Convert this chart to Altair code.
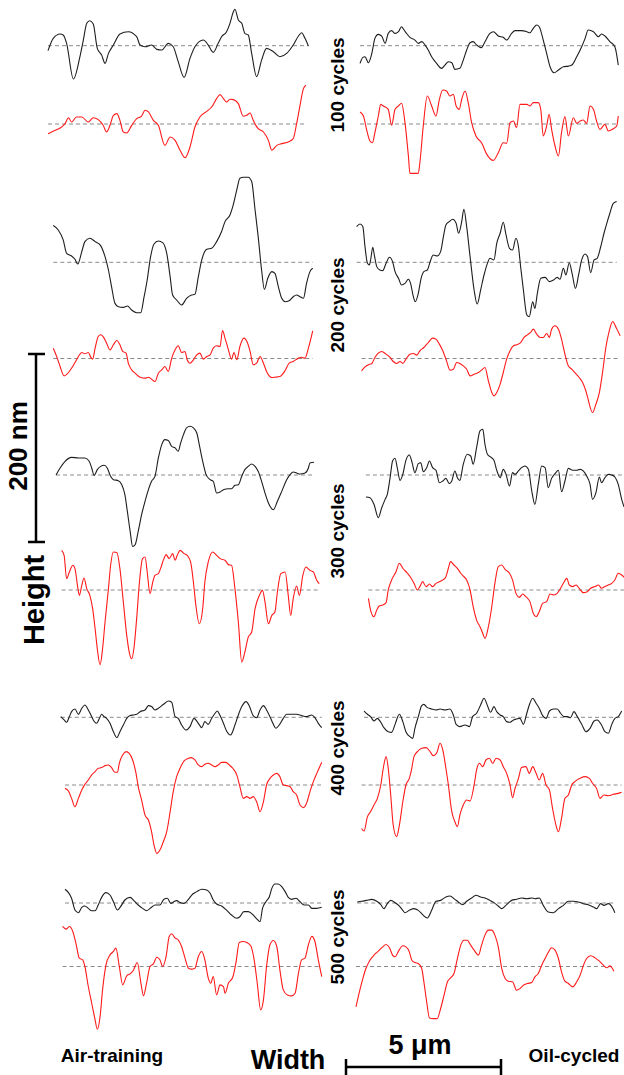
import altair as alt
import pandas as pd

# ---- profile data: (position in um, height in nm relative to mean line) ----
air100_black = [(0,-5.3),(0.17,7.8),(0.39,12.4),(0.49,11.4),(0.60,2.5),(0.82,-35.5),(1.03,-11.7),(1.14,6.0),(1.25,23.8),(1.35,26.6),(1.46,23.1),(1.59,-2.8),(1.73,-9.9),(1.84,-18.8),(1.95,-8.2),(2.11,0.7),(2.32,12.4),(2.59,14.9),(2.86,9.6),(2.97,0.7),(3.13,-1.1),(3.34,0.7),(3.51,-3.9),(3.67,-4.6),(3.88,2.5),(4.04,-1.1),(4.20,-17.0),(4.39,-33.7),(4.58,-13.5),(4.74,-1.1),(5.01,6.0),(5.17,0.7),(5.33,-7.1),(5.49,2.5),(5.60,9.6),(5.76,14.9),(5.87,23.8),(5.98,36.2),(6.03,38.7),(6.14,27.3),(6.25,23.8),(6.35,13.1),(6.46,11.4),(6.57,-8.2),(6.73,-33.0),(6.89,-15.3),(7.05,-2.8),(7.27,-6.4),(7.48,-11.7),(7.70,-8.2),(7.91,0.7),(8.08,10.3),(8.18,13.8),(8.29,7.8),(8.40,-0.4)]
air100_red = [(0,-10.3),(0.23,-6.7),(0.44,-3.2),(0.55,0.4),(0.66,6.7),(0.76,2.1),(0.92,7.5),(1.09,7.5),(1.30,2.1),(1.46,6.7),(1.62,4.6),(1.78,-1.4),(1.89,-8.5),(2.00,-1.4),(2.11,9.2),(2.22,11.0),(2.32,3.9),(2.43,-8.5),(2.54,-9.6),(2.70,-1.4),(2.86,5.7),(3.02,8.5),(3.13,14.6),(3.24,12.8),(3.40,3.9),(3.56,-1.4),(3.77,-22.7),(3.94,-13.8),(4.10,-17.4),(4.26,-28.0),(4.42,-35.9),(4.58,-24.5),(4.74,-3.2),(4.90,7.5),(5.12,13.5),(5.28,18.1),(5.44,27.0),(5.55,31.2),(5.66,27.0),(5.76,23.4),(5.87,26.3),(5.98,25.9),(6.14,21.7),(6.30,8.2),(6.41,9.2),(6.52,11.7),(6.62,3.9),(6.78,-5.0),(6.95,-8.5),(7.11,-17.4),(7.22,-28.0),(7.38,-22.7),(7.54,-20.9),(7.75,-19.2),(7.91,-15.6),(8.02,0.4),(8.13,19.9),(8.24,37.6),(8.32,41.2)]
oil100_black = [(0.13,-18.8),(0.22,-12.4),(0.29,-11.7),(0.40,-18.1),(0.51,-8.2),(0.61,7.8),(0.72,12.1),(0.83,10.3),(0.94,2.5),(1.04,13.1),(1.15,16.0),(1.26,13.1),(1.37,14.9),(1.47,20.2),(1.55,16.7),(1.63,13.1),(1.74,8.9),(1.90,6.0),(2.01,2.5),(2.12,4.3),(2.23,0.7),(2.33,-4.6),(2.44,-11.7),(2.60,-18.8),(2.76,-24.1),(2.87,-20.6),(2.98,-17.0),(3.09,-18.1),(3.19,-25.2),(3.35,-24.1),(3.46,-15.3),(3.57,-4.6),(3.68,3.2),(3.78,4.3),(3.89,0.7),(4.05,-2.1),(4.16,4.3),(4.32,13.1),(4.43,14.9),(4.59,10.3),(4.75,8.9),(4.86,6.0),(5.02,13.1),(5.13,16.0),(5.34,16.0),(5.51,14.9),(5.61,13.8),(5.72,18.5),(5.83,22.0),(5.91,20.2),(6.04,6.0),(6.15,-8.2),(6.26,-22.4),(6.39,-28.8),(6.53,-25.9),(6.69,-22.4),(6.85,-21.7),(6.96,-20.6),(7.12,-11.7),(7.28,-1.1),(7.39,7.8),(7.49,16.7),(7.66,14.9),(7.82,9.6),(7.92,12.4),(8.03,10.3),(8.19,4.3),(8.35,-1.1),(8.46,-20.6)]
oil100_red = [(0.13,12.8),(0.24,8.5),(0.34,-5.7),(0.45,-18.1),(0.53,-19.9),(0.61,-9.2),(0.72,8.5),(0.80,20.9),(0.88,19.2),(1.04,15.6),(1.15,-1.4),(1.26,15.6),(1.37,19.2),(1.47,22.0),(1.58,1.4),(1.69,-34.1),(1.74,-52.5),(2.01,-52.5),(2.06,-41.2),(2.17,-2.1),(2.30,29.8),(2.44,19.2),(2.58,8.5),(2.69,26.3),(2.80,36.2),(2.92,35.1),(3.03,29.8),(3.14,31.6),(3.23,19.2),(3.33,15.6),(3.41,26.3),(3.52,35.1),(3.62,22.7),(3.73,1.4),(3.87,-12.8),(4.05,-19.9),(4.22,-32.3),(4.43,-38.7),(4.59,-30.5),(4.75,-19.9),(4.86,-20.6),(4.97,1.4),(5.08,3.2),(5.18,-3.9),(5.29,20.9),(5.51,20.9),(5.61,19.2),(5.72,22.7),(5.88,22.7),(5.96,15.6),(6.04,-12.8),(6.15,-2.1),(6.23,10.3),(6.31,-5.7),(6.42,-23.4),(6.53,-34.1),(6.63,-9.2),(6.74,7.8),(6.85,-12.8),(7.01,6.7),(7.12,0.7),(7.23,3.2),(7.33,4.3),(7.44,0.7),(7.55,19.2),(7.66,15.6),(7.76,3.2),(7.87,-5.7),(8.03,-0.4),(8.14,-7.5),(8.30,-5.0),(8.41,-2.1),(8.46,8.5)]
air200_black = [(0.17,39.1),(0.33,34.4),(0.49,23.8),(0.60,9.6),(0.76,6.7),(0.87,3.2),(0.96,-1.8),(1.09,11.4),(1.19,22.0),(1.35,25.6),(1.52,22.0),(1.68,18.5),(1.84,6.0),(1.95,-8.2),(2.05,-25.9),(2.16,-43.7),(2.27,-47.2),(2.43,-47.9),(2.56,-46.5),(2.70,-50.8),(2.86,-53.6),(2.99,-53.6),(3.10,-36.6),(3.20,-18.8),(3.31,6.0),(3.42,19.5),(3.56,22.7),(3.70,20.9),(3.83,9.6),(3.94,-15.3),(4.02,-34.8),(4.15,-40.1),(4.31,-45.4),(4.47,-38.3),(4.63,-34.8),(4.74,-34.1),(4.85,-15.3),(4.96,2.5),(5.12,13.8),(5.28,14.9),(5.44,22.0),(5.60,32.7),(5.71,43.3),(5.87,50.4),(5.96,59.3),(6.09,77.0),(6.19,89.5),(6.30,90.5),(6.46,90.5),(6.57,85.9),(6.68,55.7),(6.78,27.3),(6.89,-8.2),(6.98,-28.8),(7.09,-17.0),(7.22,-9.9),(7.32,-11.7),(7.43,-25.9),(7.54,-38.3),(7.65,-41.9),(7.78,-40.8),(7.91,-36.6),(8.02,-34.8),(8.13,-36.6),(8.24,-38.3),(8.34,-22.4),(8.45,-9.9),(8.54,-6.4)]
air200_red = [(0.17,11.0),(0.28,2.1),(0.39,-8.5),(0.52,-18.5),(0.66,-14.9),(0.76,-10.3),(0.87,-4.3),(0.98,2.1),(1.09,6.4),(1.19,5.0),(1.30,6.4),(1.38,1.4),(1.44,-0.7),(1.52,11.0),(1.62,23.4),(1.70,25.2),(1.81,21.7),(1.89,16.3),(2.00,9.2),(2.11,14.6),(2.22,19.2),(2.32,14.6),(2.41,7.5),(2.52,5.7),(2.59,-5.0),(2.70,-12.1),(2.81,-15.6),(2.97,-19.9),(3.13,-20.9),(3.24,-19.9),(3.34,-22.0),(3.45,-24.5),(3.56,-15.6),(3.67,-12.1),(3.77,-8.5),(3.88,-13.8),(3.99,0.4),(4.10,9.2),(4.20,13.5),(4.31,6.4),(4.42,7.5),(4.49,-1.4),(4.58,-5.0),(4.69,-1.4),(4.80,3.9),(4.90,5.7),(5.01,-0.7),(5.12,2.1),(5.23,3.9),(5.33,11.0),(5.44,13.5),(5.55,12.8),(5.63,29.8),(5.71,21.7),(5.82,9.2),(5.92,-0.7),(6.00,6.4),(6.09,-1.4),(6.19,12.8),(6.32,21.7),(6.43,17.0),(6.52,7.5),(6.62,-6.7),(6.73,-5.0),(6.84,2.1),(6.95,-5.0),(7.05,-13.8),(7.22,-20.2),(7.32,-19.9),(7.48,-19.2),(7.65,-12.8),(7.78,-5.0),(7.91,-3.2),(8.08,0.4),(8.18,1.4),(8.29,0.4),(8.40,11.0),(8.54,29.5)]
oil200_black = [(0.02,38.0),(0.13,40.8),(0.22,38.0),(0.29,16.7),(0.37,-1.1),(0.43,-2.8),(0.48,4.3),(0.54,16.0),(0.60,6.0),(0.67,-4.6),(0.77,-8.2),(0.86,-8.9),(0.97,-1.1),(1.08,5.3),(1.18,0.7),(1.26,-9.9),(1.37,-17.0),(1.47,-24.1),(1.58,-22.4),(1.69,-18.1),(1.76,-22.4),(1.85,-36.6),(1.91,-41.9),(2.01,-33.0),(2.10,-17.0),(2.19,-9.9),(2.30,-8.2),(2.41,2.5),(2.49,7.8),(2.62,6.7),(2.73,11.4),(2.82,27.3),(2.90,39.8),(3.01,43.3),(3.12,45.8),(3.23,41.5),(3.31,30.9),(3.41,43.3),(3.48,56.4),(3.57,38.0),(3.68,6.0),(3.81,-29.5),(3.91,-44.4),(4.02,-29.5),(4.13,-13.5),(4.24,-1.1),(4.32,4.3),(4.45,2.5),(4.54,20.2),(4.65,30.9),(4.75,42.6),(4.84,29.1),(4.95,14.9),(5.05,13.1),(5.16,25.6),(5.24,16.7),(5.31,-4.6),(5.40,-29.5),(5.51,-56.1),(5.59,-57.9),(5.70,-41.9),(5.77,-49.0),(5.85,-33.0),(5.96,-17.0),(6.10,-16.0),(6.24,-20.6),(6.37,-18.8),(6.49,-16.0),(6.58,-18.1),(6.69,-6.4),(6.77,-13.5),(6.88,-0.4),(6.97,-11.7),(7.08,-27.7),(7.18,-13.5),(7.28,2.5),(7.39,8.9),(7.47,6.0),(7.57,-11.0),(7.68,2.5),(7.78,4.3),(7.89,16.0),(8.00,30.9),(8.09,41.5),(8.19,52.2),(8.30,62.8),(8.41,64.6)]
oil200_red = [(0.18,-13.1),(0.29,-8.9),(0.40,-6.7),(0.51,-5.3),(0.61,1.1),(0.72,5.7),(0.83,7.5),(0.97,4.6),(1.10,1.1),(1.20,-3.2),(1.31,-5.3),(1.42,-3.2),(1.51,-5.3),(1.61,-0.7),(1.74,4.6),(1.85,5.3),(1.96,3.6),(2.06,8.2),(2.19,11.7),(2.33,17.0),(2.47,21.7),(2.58,20.6),(2.69,15.3),(2.80,8.2),(2.92,-2.5),(3.03,-12.4),(3.14,-11.4),(3.25,-4.3),(3.35,-5.3),(3.46,-7.8),(3.57,-11.4),(3.68,-18.5),(3.81,-16.7),(3.95,-14.9),(4.05,-12.4),(4.16,-9.6),(4.27,-23.8),(4.38,-36.2),(4.45,-39.8),(4.54,-36.2),(4.65,-27.3),(4.75,-14.9),(4.86,-0.7),(4.97,8.2),(5.08,13.5),(5.18,14.6),(5.31,17.0),(5.42,22.4),(5.53,25.2),(5.63,27.7),(5.72,31.2),(5.83,25.9),(5.94,22.4),(6.04,22.4),(6.15,26.6),(6.24,22.4),(6.31,31.2),(6.42,34.8),(6.53,31.2),(6.63,20.6),(6.74,4.6),(6.85,-7.8),(6.96,-11.4),(7.06,-14.9),(7.20,-20.2),(7.31,-25.6),(7.42,-35.1),(7.46,-39.8),(7.63,-57.5),(7.74,-48.6),(7.85,-36.2),(7.96,-13.1),(8.06,11.7),(8.17,29.5),(8.28,39.4),(8.39,33.0),(8.52,24.1)]
air300_black = [(0.26,0),(0.39,7.5),(0.55,14.6),(0.76,18.8),(0.98,18.1),(1.19,18.1),(1.33,14.6),(1.41,7.5),(1.49,-0.4),(1.59,5.7),(1.70,9.2),(1.81,10.3),(1.91,7.5),(2.02,-1.4),(2.11,-5.0),(2.27,-6.0),(2.38,-10.3),(2.48,-20.9),(2.56,-38.7),(2.65,-60.0),(2.73,-76.0),(2.81,-74.2),(2.91,-60.0),(3.02,-42.2),(3.13,-28.0),(3.24,-15.6),(3.34,-6.7),(3.45,-1.4),(3.56,18.1),(3.67,32.3),(3.77,37.6),(3.88,36.6),(3.99,30.5),(4.10,28.8),(4.20,25.2),(4.28,34.1),(4.37,43.0),(4.47,50.1),(4.58,51.8),(4.69,50.1),(4.80,44.7),(4.88,32.3),(4.99,14.6),(5.10,0.4),(5.23,-5.0),(5.33,-6.7),(5.44,-19.2),(5.55,-18.1),(5.66,-15.6),(5.82,-14.6),(5.92,-14.6),(6.03,-11.0),(6.14,-10.3),(6.25,-1.4),(6.35,5.7),(6.46,9.2),(6.57,11.7),(6.68,9.2),(6.78,3.9),(6.89,-6.7),(7.00,-19.2),(7.11,-29.8),(7.27,-36.9),(7.40,-28.0),(7.54,-17.4),(7.70,-5.0),(7.81,0.4),(7.91,3.2),(8.02,2.1),(8.13,1.1),(8.29,2.1),(8.40,7.5),(8.45,12.8),(8.58,13.5)]
air300_red = [(0.44,42.2),(0.52,36.9),(0.60,12.1),(0.69,19.2),(0.80,26.3),(0.87,22.7),(0.95,5.0),(1.01,-5.7),(1.09,5.0),(1.16,12.8),(1.25,1.4),(1.35,-5.7),(1.44,-19.9),(1.52,-41.2),(1.59,-62.5),(1.68,-79.5),(1.76,-62.5),(1.84,-34.1),(1.95,1.4),(2.02,26.3),(2.11,40.5),(2.22,39.8),(2.32,22.7),(2.43,-12.8),(2.54,-48.3),(2.62,-66.0),(2.70,-73.1),(2.77,-62.5),(2.86,-30.5),(2.95,8.5),(3.05,33.4),(3.13,35.1),(3.20,19.2),(3.29,-3.9),(3.38,8.5),(3.45,15.6),(3.56,17.4),(3.63,22.7),(3.74,33.4),(3.81,37.6),(3.91,33.4),(4.02,38.7),(4.10,31.6),(4.17,36.9),(4.26,42.2),(4.39,38.7),(4.49,36.9),(4.60,29.8),(4.69,8.5),(4.77,-16.3),(4.88,-35.9),(4.99,-19.9),(5.06,8.5),(5.17,29.8),(5.31,40.5),(5.44,36.9),(5.55,33.4),(5.71,31.6),(5.82,27.0),(5.92,26.3),(6.03,1.4),(6.14,-34.1),(6.25,-76.7),(6.35,-66.0),(6.46,-50.1),(6.57,-44.7),(6.68,-19.9),(6.82,-5.7),(6.92,-0.4),(7.00,-12.8),(7.11,-35.9),(7.22,-27.0),(7.32,-23.4),(7.40,-2.1),(7.51,17.4),(7.65,19.2),(7.75,-5.7),(7.83,-27.0),(7.91,-9.2),(8.02,4.3),(8.11,-5.7),(8.22,15.6),(8.32,24.5),(8.45,20.9),(8.56,19.2),(8.67,10.3),(8.75,6.7)]
oil300_black = [(0.32,-23.4),(0.45,-24.1),(0.58,-31.2),(0.72,-45.4),(0.83,-34.8),(0.94,-25.9),(1.01,-20.6),(1.10,-2.8),(1.18,14.9),(1.26,17.8),(1.33,7.8),(1.42,-5.7),(1.51,0.7),(1.61,15.6),(1.72,21.3),(1.81,13.1),(1.90,2.5),(2.01,12.1),(2.09,13.1),(2.17,3.6),(2.28,7.8),(2.37,14.9),(2.47,7.8),(2.58,5.0),(2.69,-8.2),(2.80,-6.4),(2.90,-3.6),(3.01,-9.2),(3.09,-6.4),(3.19,4.3),(3.27,-2.8),(3.35,-5.7),(3.46,11.4),(3.59,22.0),(3.70,20.2),(3.78,11.4),(3.89,29.1),(4.00,46.9),(4.09,48.6),(4.16,32.7),(4.24,22.0),(4.34,19.2),(4.45,15.6),(4.54,5.0),(4.65,-2.8),(4.75,6.0),(4.84,0.7),(4.95,-11.7),(5.05,2.5),(5.13,0.7),(5.24,4.3),(5.34,7.8),(5.45,9.6),(5.56,6.0),(5.67,-17.0),(5.77,-31.2),(5.88,-9.9),(5.99,9.6),(6.10,7.8),(6.20,-13.5),(6.31,-3.6),(6.42,1.4),(6.53,5.0),(6.63,-17.8),(6.74,-6.4),(6.85,7.1),(6.99,5.0),(7.12,5.0),(7.23,6.0),(7.33,4.3),(7.44,-1.1),(7.55,-9.9),(7.63,-25.9),(7.74,-18.8),(7.85,-2.1),(7.92,-8.2),(8.03,-2.8),(8.14,0.7),(8.25,0),(8.35,-2.1),(8.46,-9.9),(8.57,-25.9),(8.65,-34.1)]
oil300_red = [(0.40,-8.9),(0.47,-21.3),(0.58,-28.4),(0.67,-21.3),(0.75,-17.0),(0.86,-16.0),(0.97,-13.5),(1.04,0),(1.15,10.7),(1.29,19.5),(1.40,28.4),(1.51,23.1),(1.66,17.8),(1.76,13.5),(1.87,7.1),(1.98,0),(2.06,3.6),(2.15,8.9),(2.26,3.6),(2.37,6.4),(2.47,3.6),(2.58,7.1),(2.69,8.9),(2.80,10.7),(2.90,14.2),(2.98,23.1),(3.05,30.2),(3.16,26.6),(3.27,23.1),(3.38,17.8),(3.48,14.2),(3.57,10.7),(3.68,0),(3.78,-17.8),(3.89,-32.0),(4.00,-39.1),(4.09,-46.2),(4.16,-51.5),(4.27,-39.1),(4.38,-17.8),(4.48,7.1),(4.59,24.9),(4.70,26.6),(4.81,22.0),(4.95,17.8),(5.05,10.7),(5.16,-3.6),(5.27,-7.8),(5.38,-4.3),(5.48,-7.1),(5.61,-12.4),(5.72,-24.9),(5.81,-28.4),(5.91,-23.1),(6.02,-14.2),(6.15,-12.4),(6.26,-4.3),(6.39,-5.3),(6.49,-3.6),(6.60,1.8),(6.69,7.1),(6.80,12.4),(6.88,5.3),(6.99,3.6),(7.10,5.3),(7.20,1.8),(7.33,-2.8),(7.46,-1.8),(7.57,1.8),(7.71,3.6),(7.82,5.3),(7.92,1.8),(8.03,3.6),(8.14,5.3),(8.25,7.1),(8.35,10.7),(8.46,17.8),(8.57,16.0),(8.65,13.5)]
air400_black = [(0.41,0.7),(0.52,-2.8),(0.60,-5.3),(0.69,0.7),(0.76,6.0),(0.87,8.9),(0.98,3.2),(1.09,9.6),(1.19,13.1),(1.30,7.8),(1.41,0.7),(1.48,-3.9),(1.57,-6.4),(1.66,-1.1),(1.73,3.2),(1.81,0.7),(1.89,-1.1),(2.00,-6.4),(2.11,-15.3),(2.22,-21.7),(2.32,-15.3),(2.43,-8.2),(2.54,-1.1),(2.65,1.8),(2.75,2.5),(2.86,3.2),(2.97,6.0),(3.13,7.8),(3.24,12.4),(3.34,11.4),(3.45,7.8),(3.56,9.6),(3.67,12.4),(3.77,14.9),(3.88,17.4),(3.99,16.0),(4.10,0.7),(4.20,-1.1),(4.31,-8.2),(4.45,-13.5),(4.58,-9.9),(4.71,-1.1),(4.85,-6.4),(4.96,-11.0),(5.06,-4.6),(5.17,-7.5),(5.28,-1.1),(5.39,4.3),(5.46,6.7),(5.55,1.8),(5.66,-6.4),(5.76,-14.6),(5.89,-18.8),(6.03,-8.2),(6.14,2.5),(6.25,11.4),(6.39,16.7),(6.49,12.4),(6.62,1.8),(6.73,-0.4),(6.84,7.8),(6.95,12.4),(7.05,7.8),(7.16,0.7),(7.27,-7.5),(7.35,-11.7),(7.46,-8.2),(7.59,-1.1),(7.70,3.2),(7.86,3.2),(8.02,3.2),(8.18,1.8),(8.34,0.7),(8.51,2.5),(8.61,-0.4),(8.72,-6.4),(8.83,-11.0)]
air400_red = [(0.55,-3.6),(0.66,-6.4),(0.76,-14.2),(0.87,-23.1),(0.98,-14.2),(1.09,-5.3),(1.19,0.7),(1.30,5.3),(1.41,10.7),(1.52,14.2),(1.62,17.8),(1.73,18.5),(1.84,20.6),(1.95,21.3),(2.05,18.5),(2.16,13.5),(2.24,13.5),(2.30,23.1),(2.41,32.0),(2.52,35.5),(2.62,33.7),(2.73,26.6),(2.84,12.4),(2.91,-1.8),(3.02,-16.0),(3.13,-32.0),(3.24,-37.3),(3.34,-49.7),(3.42,-63.9),(3.51,-72.8),(3.61,-69.2),(3.72,-60.4),(3.83,-49.7),(3.94,-28.4),(4.04,-7.1),(4.15,8.9),(4.26,17.8),(4.39,25.6),(4.53,28.4),(4.63,29.1),(4.74,26.6),(4.85,21.3),(4.96,19.5),(5.06,22.0),(5.17,23.1),(5.28,21.3),(5.39,19.5),(5.49,21.3),(5.60,24.1),(5.74,24.1),(5.85,21.3),(5.96,17.8),(6.09,10.7),(6.19,-1.8),(6.30,-14.2),(6.41,-12.4),(6.52,-14.2),(6.62,-12.4),(6.73,-17.8),(6.84,-28.4),(6.95,-17.8),(7.05,0),(7.16,7.1),(7.27,10.7),(7.38,12.4),(7.48,8.9),(7.59,0),(7.70,-0.7),(7.81,-1.8),(7.91,-7.1),(8.02,-10.7),(8.13,-21.3),(8.24,-24.1),(8.34,-19.5),(8.45,-7.1),(8.56,3.6),(8.67,12.4),(8.83,24.1)]
oil400_black = [(0.26,6.7),(0.37,3.2),(0.47,0.7),(0.58,-3.9),(0.69,-1.1),(0.80,-5.3),(0.90,-11.0),(1.04,-15.3),(1.15,-16.0),(1.26,-7.5),(1.40,3.2),(1.51,-4.6),(1.61,-15.3),(1.74,-20.6),(1.83,-22.4),(1.90,-11.7),(2.01,0.7),(2.12,12.4),(2.19,13.8),(2.30,10.3),(2.44,8.9),(2.58,7.8),(2.71,8.9),(2.87,7.8),(3.03,8.9),(3.14,2.5),(3.23,-7.5),(3.35,-9.9),(3.52,-8.2),(3.66,-9.9),(3.76,0.7),(3.89,4.3),(4.02,13.1),(4.13,20.2),(4.24,12.4),(4.34,5.3),(4.45,11.4),(4.54,6.0),(4.65,2.5),(4.75,0.7),(4.86,-4.6),(4.97,-5.3),(5.08,-2.8),(5.18,-1.8),(5.29,-1.1),(5.40,-7.5),(5.51,4.3),(5.59,13.1),(5.70,20.2),(5.81,14.9),(5.91,9.6),(6.02,1.8),(6.13,-1.1),(6.24,6.7),(6.37,8.9),(6.49,8.9),(6.60,4.3),(6.71,0.7),(6.82,0.7),(6.92,-0.4),(7.03,6.0),(7.14,0.7),(7.28,-7.5),(7.42,-15.3),(7.55,-11.7),(7.68,-3.9),(7.78,-2.8),(7.92,-8.2),(8.03,-15.3),(8.14,-17.0),(8.25,-7.5),(8.35,-1.1),(8.46,0.7),(8.57,6.7)]
oil400_red = [(0.18,-46.2),(0.26,-49.0),(0.37,-33.7),(0.47,-28.4),(0.58,-21.3),(0.69,-14.2),(0.80,0),(0.88,17.8),(0.97,30.2),(1.04,17.8),(1.12,-10.7),(1.20,-42.6),(1.31,-55.0),(1.40,-42.6),(1.51,-17.8),(1.61,0),(1.72,7.1),(1.80,17.8),(1.87,30.2),(1.98,35.5),(2.12,39.1),(2.26,39.8),(2.39,35.5),(2.49,31.2),(2.62,35.5),(2.71,44.4),(2.80,37.3),(2.90,17.8),(2.98,0),(3.09,-28.4),(3.19,-39.1),(3.27,-44.4),(3.35,-32.0),(3.46,-21.3),(3.57,-16.0),(3.68,-17.0),(3.81,0),(3.89,16.0),(3.98,23.1),(4.09,19.5),(4.19,26.6),(4.30,28.4),(4.41,23.1),(4.52,28.4),(4.65,26.6),(4.75,19.5),(4.86,12.4),(4.97,0),(5.05,-13.5),(5.13,-3.6),(5.24,7.1),(5.34,18.5),(5.48,19.5),(5.59,12.4),(5.70,19.5),(5.81,12.4),(5.91,5.3),(6.02,12.4),(6.13,0),(6.24,-5.3),(6.34,-24.9),(6.45,-42.6),(6.53,-49.7),(6.63,-35.5),(6.74,-14.2),(6.85,-10.7),(6.96,0),(7.06,3.6),(7.23,7.1),(7.39,8.9),(7.53,7.1),(7.63,1.8),(7.76,-3.6),(7.87,-14.2),(8.00,-10.7),(8.14,-11.4),(8.30,-9.9),(8.46,-8.9),(8.57,-7.8)]
air500_black = [(0.55,14.6),(0.66,11.0),(0.76,5.0),(0.87,-7.5),(0.98,-10.3),(1.09,-4.6),(1.19,-3.2),(1.30,-5.7),(1.41,-8.2),(1.52,-8.2),(1.62,-2.1),(1.73,6.0),(1.87,11.0),(2.00,8.5),(2.11,1.4),(2.24,-7.5),(2.34,-3.9),(2.48,3.2),(2.65,6.0),(2.77,2.5),(2.91,-2.1),(3.05,-5.7),(3.18,-8.2),(3.34,-4.6),(3.45,-2.1),(3.61,-2.1),(3.74,3.9),(3.85,5.0),(3.96,-0.4),(4.06,1.4),(4.15,2.5),(4.26,0.4),(4.39,-0.4),(4.53,3.9),(4.67,9.6),(4.80,12.1),(4.96,14.6),(5.12,13.8),(5.23,10.3),(5.33,3.2),(5.44,-1.1),(5.60,-3.2),(5.76,-7.5),(5.92,-12.8),(6.09,-16.3),(6.19,-14.6),(6.32,-9.2),(6.46,-9.2),(6.62,-12.8),(6.75,-17.4),(6.84,-19.9),(6.92,-5.7),(7.03,1.4),(7.14,6.7),(7.22,15.6),(7.32,20.2),(7.43,20.2),(7.54,17.4),(7.65,12.1),(7.75,6.0),(7.86,3.9),(8.00,5.0),(8.13,1.4),(8.26,-2.1),(8.40,-2.1),(8.51,-5.7),(8.67,-5.7),(8.83,-4.6)]
air500_red = [(0.47,42.6),(0.58,39.8),(0.69,42.6),(0.80,37.3),(0.90,24.9),(1.01,8.9),(1.12,7.1),(1.19,0),(1.30,-21.3),(1.41,-39.1),(1.52,-56.8),(1.59,-66.7),(1.68,-53.3),(1.76,-24.9),(1.87,1.8),(2.00,12.4),(2.11,16.0),(2.19,19.5),(2.30,0),(2.41,-19.5),(2.54,-9.9),(2.65,-7.8),(2.75,-4.3),(2.88,4.3),(2.99,-16.0),(3.08,-31.2),(3.18,-17.8),(3.29,0),(3.40,2.8),(3.51,9.9),(3.61,7.1),(3.70,0),(3.81,10.7),(3.91,32.0),(3.99,34.8),(4.10,30.2),(4.20,28.4),(4.31,21.3),(4.42,8.9),(4.53,-1.8),(4.63,-2.8),(4.74,-1.8),(4.85,10.7),(4.96,16.0),(5.06,7.1),(5.17,-12.4),(5.25,-17.8),(5.33,-10.7),(5.44,-30.2),(5.55,-19.5),(5.66,-21.3),(5.71,-28.4),(5.82,-17.8),(5.96,-11.4),(6.06,3.6),(6.17,25.6),(6.30,26.6),(6.41,25.6),(6.54,22.0),(6.65,7.1),(6.75,-17.8),(6.86,-46.2),(6.95,-35.5),(7.05,0),(7.16,23.1),(7.27,27.7),(7.38,21.3),(7.48,-3.6),(7.59,-24.9),(7.72,-30.2),(7.86,-31.2),(7.97,-28.4),(8.08,-7.1),(8.18,7.1),(8.29,8.9),(8.40,23.1),(8.51,32.0),(8.61,26.6),(8.72,7.1),(8.83,-10.7)]
oil500_black = [(0.04,1.1),(0.18,1.8),(0.34,2.8),(0.51,3.9),(0.67,1.8),(0.80,-1.8),(0.90,-6.0),(1.01,-0.7),(1.12,2.8),(1.26,0.4),(1.40,-3.2),(1.51,-7.8),(1.58,-10.3),(1.72,-7.8),(1.87,-6.0),(2.01,-7.8),(2.15,-12.4),(2.30,-16.0),(2.44,-7.8),(2.58,1.8),(2.73,2.8),(2.90,6.4),(3.03,7.5),(3.19,3.9),(3.30,1.1),(3.44,-1.8),(3.57,1.8),(3.73,5.3),(3.87,8.2),(4.02,6.4),(4.16,5.3),(4.32,2.8),(4.45,0.4),(4.59,-3.2),(4.70,-6.0),(4.86,-1.8),(5.02,2.8),(5.18,3.9),(5.34,5.3),(5.51,4.6),(5.67,5.3),(5.77,4.6),(5.91,5.3),(6.04,-2.5),(6.20,-9.6),(6.37,-10.3),(6.53,-6.0),(6.69,-2.5),(6.85,1.8),(7.01,1.8),(7.17,1.1),(7.33,-0.7),(7.49,-1.8),(7.66,-4.3),(7.76,-6.0),(7.89,-0.7),(8.00,-2.5),(8.14,-0.7),(8.28,-5.3),(8.35,-10.3)]
oil500_red = [(0,-43.0),(0.11,-27.0),(0.22,-12.8),(0.32,-2.1),(0.45,6.7),(0.58,12.1),(0.72,16.3),(0.86,20.9),(0.97,23.4),(1.08,19.9),(1.18,12.1),(1.26,10.3),(1.37,16.3),(1.51,22.0),(1.61,20.9),(1.72,15.6),(1.80,6.7),(1.90,4.3),(2.01,3.2),(2.12,-2.1),(2.19,-16.3),(2.28,-37.6),(2.37,-54.7),(2.49,-55.4),(2.62,-55.4),(2.73,-44.7),(2.84,-30.5),(2.95,-16.3),(3.05,-12.1),(3.16,-7.5),(3.27,8.5),(3.38,22.7),(3.48,28.0),(3.59,28.0),(3.70,22.7),(3.81,17.4),(3.95,12.1),(4.05,22.7),(4.16,33.4),(4.27,38.7),(4.38,38.7),(4.48,33.4),(4.59,20.9),(4.70,-2.1),(4.81,-12.8),(4.91,-15.6),(5.05,-16.3),(5.18,-25.2),(5.29,-23.4),(5.40,-19.9),(5.53,-18.1),(5.67,-17.0),(5.77,-11.0),(5.88,-7.5),(5.99,1.4),(6.10,8.5),(6.20,14.9),(6.31,19.9),(6.42,17.4),(6.53,8.5),(6.63,-5.7),(6.74,-15.6),(6.85,-18.1),(6.99,-21.7),(7.12,-16.3),(7.23,-9.2),(7.33,0.7),(7.44,8.5),(7.57,11.4),(7.71,9.2),(7.85,5.7),(7.98,1.4),(8.09,-1.4),(8.19,0.7),(8.32,-5.0)]

cycle_labels = ["100 cycles", "200 cycles", "300 cycles", "400 cycles", "500 cycles"]
column_labels = ["Air-training", "Oil-cycled"]
height_bar_nm = 200
width_bar_um = 5

# ---- layout (pixels) ----
W, H = 624, 1075
PX_PER_UM = 31.0
PX_PER_NM = 0.94
COL_X = {"air": 48, "oil": 356}
ROW_BASE = [(45.7, 124.0), (262.3, 358.5), (475.0, 590.0), (717.3, 785.0), (903.0, 966.5)]
BLACK, RED = "#1e1e1e", "#ff1a1a"

profiles = [
    [(air100_black, oil100_black), (air100_red, oil100_red)],
    [(air200_black, oil200_black), (air200_red, oil200_red)],
    [(air300_black, oil300_black), (air300_red, oil300_red)],
    [(air400_black, oil400_black), (air400_red, oil400_red)],
    [(air500_black, oil500_black), (air500_red, oil500_red)],
]

rows, bases = [], []
tid = 0
for r, pair in enumerate(profiles):
    for k, (air, oil) in enumerate(pair):
        base_nm = ROW_BASE[r][k] / PX_PER_NM
        color = BLACK if k == 0 else RED
        for col, prof in (("air", air), ("oil", oil)):
            x0 = COL_X[col] / PX_PER_UM
            for i, (xu, h) in enumerate(prof):
                rows.append({"t": tid, "i": i, "x": x0 + xu, "y": base_nm - h, "c": color})
            bases.append({"x": x0 + prof[0][0], "x2": x0 + prof[-1][0], "y": base_nm})
            tid += 1

df = pd.DataFrame(rows)
dfb = pd.DataFrame(bases)

xs = alt.Scale(domain=[0, W / PX_PER_UM], nice=False, zero=False)
ys = alt.Scale(domain=[0, H / PX_PER_NM], reverse=True, nice=False, zero=False)

baselines = alt.Chart(dfb).mark_rule(color="#8a8a8a", strokeDash=[4, 3], strokeWidth=1).encode(
    x=alt.X("x:Q", scale=xs, axis=None), x2="x2:Q",
    y=alt.Y("y:Q", scale=ys, axis=None))

lines = alt.Chart(df).mark_line(strokeWidth=1.1, interpolate="monotone").encode(
    x=alt.X("x:Q", scale=xs, axis=None),
    y=alt.Y("y:Q", scale=ys, axis=None),
    detail="t:N", order="i:Q",
    color=alt.Color("c:N", scale=None))

# scale bars
vbar_top = 354 / PX_PER_NM
dv = pd.DataFrame({"y": [vbar_top], "y2": [vbar_top + height_bar_nm]})
vbar = alt.Chart(dv).mark_rule(strokeWidth=2.5, color="black").encode(
    x=alt.value(36), y=alt.Y("y:Q", scale=ys, axis=None), y2="y2:Q")
vcap1 = alt.Chart(dv).mark_rule(strokeWidth=2.5, color="black").encode(
    x=alt.value(28), x2=alt.value(45), y=alt.Y("y:Q", scale=ys, axis=None))
vcap2 = alt.Chart(dv).mark_rule(strokeWidth=2.5, color="black").encode(
    x=alt.value(28), x2=alt.value(45), y=alt.Y("y2:Q", scale=ys, axis=None))

hbar_left = 346 / PX_PER_UM
dh = pd.DataFrame({"x": [hbar_left], "x2": [hbar_left + width_bar_um]})
hbar = alt.Chart(dh).mark_rule(strokeWidth=2.5, color="black").encode(
    y=alt.value(1067), x=alt.X("x:Q", scale=xs, axis=None), x2="x2:Q")
hcap1 = alt.Chart(dh).mark_rule(strokeWidth=2.5, color="black").encode(
    y=alt.value(1059), y2=alt.value(1075), x=alt.X("x:Q", scale=xs, axis=None))
hcap2 = alt.Chart(dh).mark_rule(strokeWidth=2.5, color="black").encode(
    y=alt.value(1059), y2=alt.value(1075), x=alt.X("x2:Q", scale=xs, axis=None))

FONT = "Liberation Sans"

def label(text, x, y, size, angle=0):
    return alt.Chart(pd.DataFrame({"s": [text]})).mark_text(
        font=FONT, fontWeight="bold", fontSize=size, angle=angle,
        align="center", baseline="middle", color="black").encode(
        text="s:N", x=alt.value(x), y=alt.value(y))

cycle_y = [85, 305, 531, 748, 937]
texts = [label(t, 338, y, 19, 270) for t, y in zip(cycle_labels, cycle_y)]
texts += [
    label(f"{height_bar_nm} nm", 19, 446, 26, 270),
    label("Height", 35, 600, 29, 270),
    label(column_labels[0], 112, 1056, 19),
    label(column_labels[1], 574, 1056, 19),
    label("Width", 288, 1061, 27),
    label(f"{width_bar_um} \u03bcm", 420, 1046, 27),
]

chart = alt.layer(baselines, lines, vbar, vcap1, vcap2, hbar, hcap1, hcap2, *texts).properties(
    width=W, height=H, autosize="none", padding=0, background="white"
).configure_view(stroke=None)

chart.save("out.html", embed_options={"renderer": "svg", "actions": False})
